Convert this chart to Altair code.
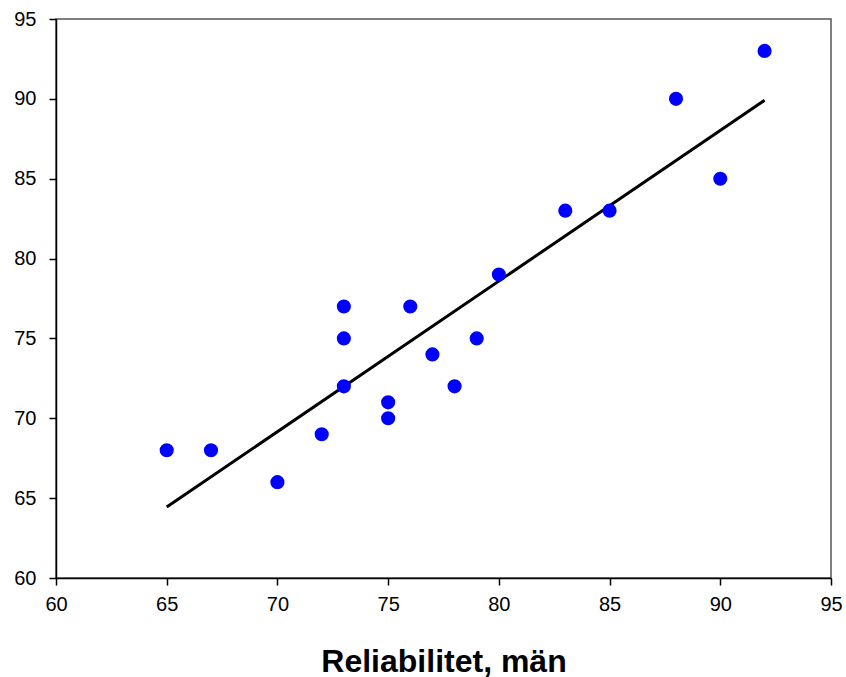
import altair as alt
import pandas as pd

x_vals = [65, 67, 70, 72, 73, 73, 73, 75, 75, 76, 77, 78, 79, 80, 83, 85, 88, 90, 92]
y_vals = [68, 68, 66, 69, 77, 75, 72, 71, 70, 77, 74, 72, 75, 79, 83, 83, 90, 85, 93]
ticks = [60, 65, 70, 75, 80, 85, 90, 95]

df = pd.DataFrame({"x": x_vals, "y": y_vals})

xscale = alt.Scale(domain=[60, 95], nice=False, zero=False)
yscale = alt.Scale(domain=[60, 95], nice=False, zero=False)

xaxis = alt.Axis(values=ticks, title="Reliabilitet, män")
yaxis = alt.Axis(values=ticks, title=None)

points = alt.Chart(df).mark_circle(color="#0000ff", opacity=1, size=200).encode(
    x=alt.X("x:Q", scale=xscale, axis=xaxis),
    y=alt.Y("y:Q", scale=yscale, axis=yaxis),
)

line = alt.Chart(df).transform_regression("x", "y", extent=[65, 92]).mark_line(
    color="black", strokeWidth=3
).encode(
    x=alt.X("x:Q", scale=xscale, axis=xaxis),
    y=alt.Y("y:Q", scale=yscale, axis=yaxis),
)

chart = alt.layer(line, points).properties(
    width=775, height=559,
    background="white",
    autosize=alt.AutoSizeParams(type="none"),
    padding={"left": 56, "top": 19, "right": 15, "bottom": 99},
).configure_view(
    stroke="#555555", strokeWidth=1.5
).configure_axis(
    grid=False, domain=True, domainColor="black", domainWidth=1.5,
    tickColor="black", tickSize=7, tickWidth=1.5, labelFontSize=20,
    labelFont="Liberation Sans", labelColor="black", labelFlush=False,
    titleFont="Liberation Sans", titleFontSize=32, titleFontWeight="bold",
    titleColor="black", titlePadding=32,
).configure_axisX(
    labelPadding=9,
).configure_axisY(
    labelPadding=13,
)

chart.save("out.html", embed_options={"renderer": "svg", "actions": False})
